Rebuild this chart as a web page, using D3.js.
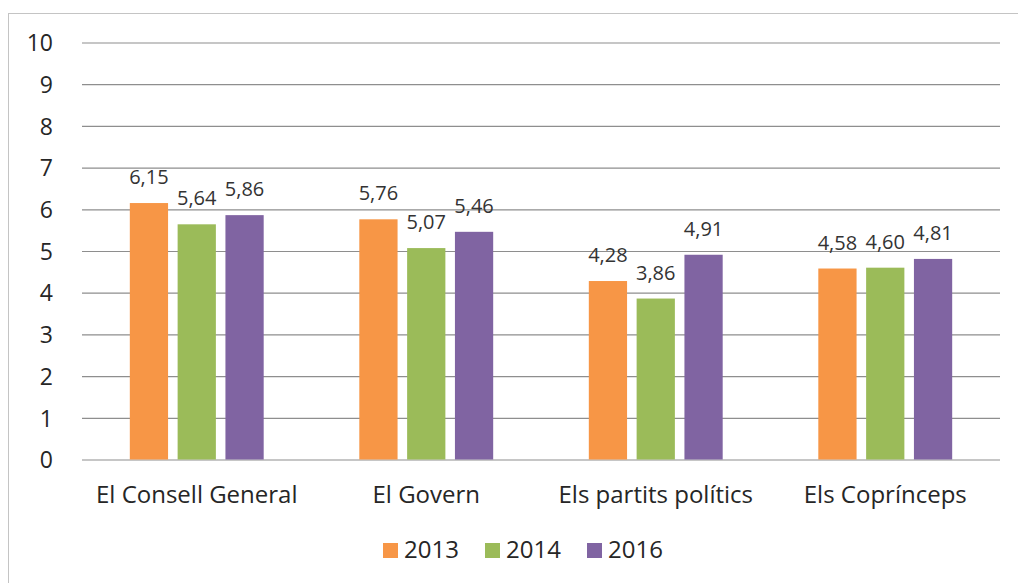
<!DOCTYPE html>
<html>
<head>
<meta charset="utf-8">
<script src="https://cdn.jsdelivr.net/npm/d3@7"></script>
<style>
  html, body { margin: 0; padding: 0; background: #fff; }
  svg { display: block; font-family: "Open Sans", sans-serif; }
</style>
</head>
<body>
<svg id="chart" width="1018" height="583"></svg>
<script>
const categories = ["El Consell General", "El Govern", "Els partits polítics", "Els Coprínceps"];
const years = ["2013", "2014", "2016"];
const values2013 = [6.15, 5.76, 4.28, 4.58];
const values2014 = [5.64, 5.07, 3.86, 4.60];
const values2016 = [5.86, 5.46, 4.91, 4.81];
const yTicks = [0, 1, 2, 3, 4, 5, 6, 7, 8, 9, 10];
const colors = ["#F79646", "#9BBB59", "#8064A2"];

const seriesValues = [values2013, values2014, values2016];
const svg = d3.select("#chart");

// outer border
svg.append("rect")
  .attr("x", 8.5).attr("y", 13.5)
  .attr("width", 1030).attr("height", 600)
  .attr("fill", "none").attr("stroke", "#c4c4c4").attr("stroke-width", 1);

const y = d3.scaleLinear().domain([0, 10]).range([459.5, 42.5]);
const x0 = d3.scaleBand().domain(categories).range([82, 1000]).paddingInner(0).paddingOuter(0);
const x1 = d3.scaleBand().domain(years).range([0, x0.bandwidth()]).paddingInner(0.2).paddingOuter(1);
const color = d3.scaleOrdinal().domain(years).range(colors);

// gridlines
const yAxis = d3.axisLeft(y).tickValues(yTicks).tickSize(-(1000 - 82)).tickPadding(29).tickFormat(d3.format("d"));
const gAxis = svg.append("g").attr("transform", "translate(82,0)").call(yAxis);
gAxis.select(".domain").remove();
gAxis.selectAll(".tick line").attr("stroke", "#8e8e8e").attr("stroke-width", 1.2);
gAxis.selectAll(".tick text")
  .attr("fill", "#262626")
  .style("font-size", "23px")
  .style("font-family", "'Open Sans', sans-serif")
  .attr("dy", "0.36em");

// bars
const data = categories.map((c, i) => ({
  cat: c,
  vals: years.map((yr, j) => ({ year: yr, value: seriesValues[j][i] }))
}));

const groups = svg.append("g").selectAll("g")
  .data(data).join("g")
  .attr("transform", d => `translate(${x0(d.cat)},0)`);

groups.selectAll("rect")
  .data(d => d.vals).join("rect")
  .attr("x", d => x1(d.year))
  .attr("width", x1.bandwidth())
  .attr("y", d => y(d.value))
  .attr("height", d => y(0) - y(d.value))
  .attr("fill", d => color(d.year));

const fmt = v => v.toFixed(2).replace(".", ",");
groups.selectAll("text.lbl")
  .data(d => d.vals).join("text")
  .attr("class", "lbl")
  .attr("x", d => x1(d.year) + x1.bandwidth() / 2)
  .attr("y", d => y(d.value) - 19)
  .attr("text-anchor", "middle")
  .attr("fill", "#333")
  .style("font-size", "20px")
  .text(d => fmt(d.value));

// category labels
const xAxis = d3.axisBottom(x0).tickSize(0).tickPadding(0);
const gx = svg.append("g").attr("transform", "translate(0,459.5)").call(xAxis);
gx.select(".domain").remove();
gx.selectAll(".tick text")
  .attr("y", 43).attr("dy", 0)
  .attr("fill", "#262626")
  .style("font-size", "24px")
  .style("font-family", "'Open Sans', sans-serif");

// legend
const legend = svg.append("g").selectAll("g")
  .data(years).join("g")
  .attr("transform", (d, i) => `translate(${383 + i * 102},0)`);
legend.append("rect")
  .attr("x", 0).attr("y", 543).attr("width", 15).attr("height", 15)
  .attr("fill", d => color(d));
legend.append("text")
  .attr("x", 21).attr("y", 558)
  .attr("fill", "#262626")
  .style("font-size", "24px")
  .text(d => d);
</script>
</body>
</html>
